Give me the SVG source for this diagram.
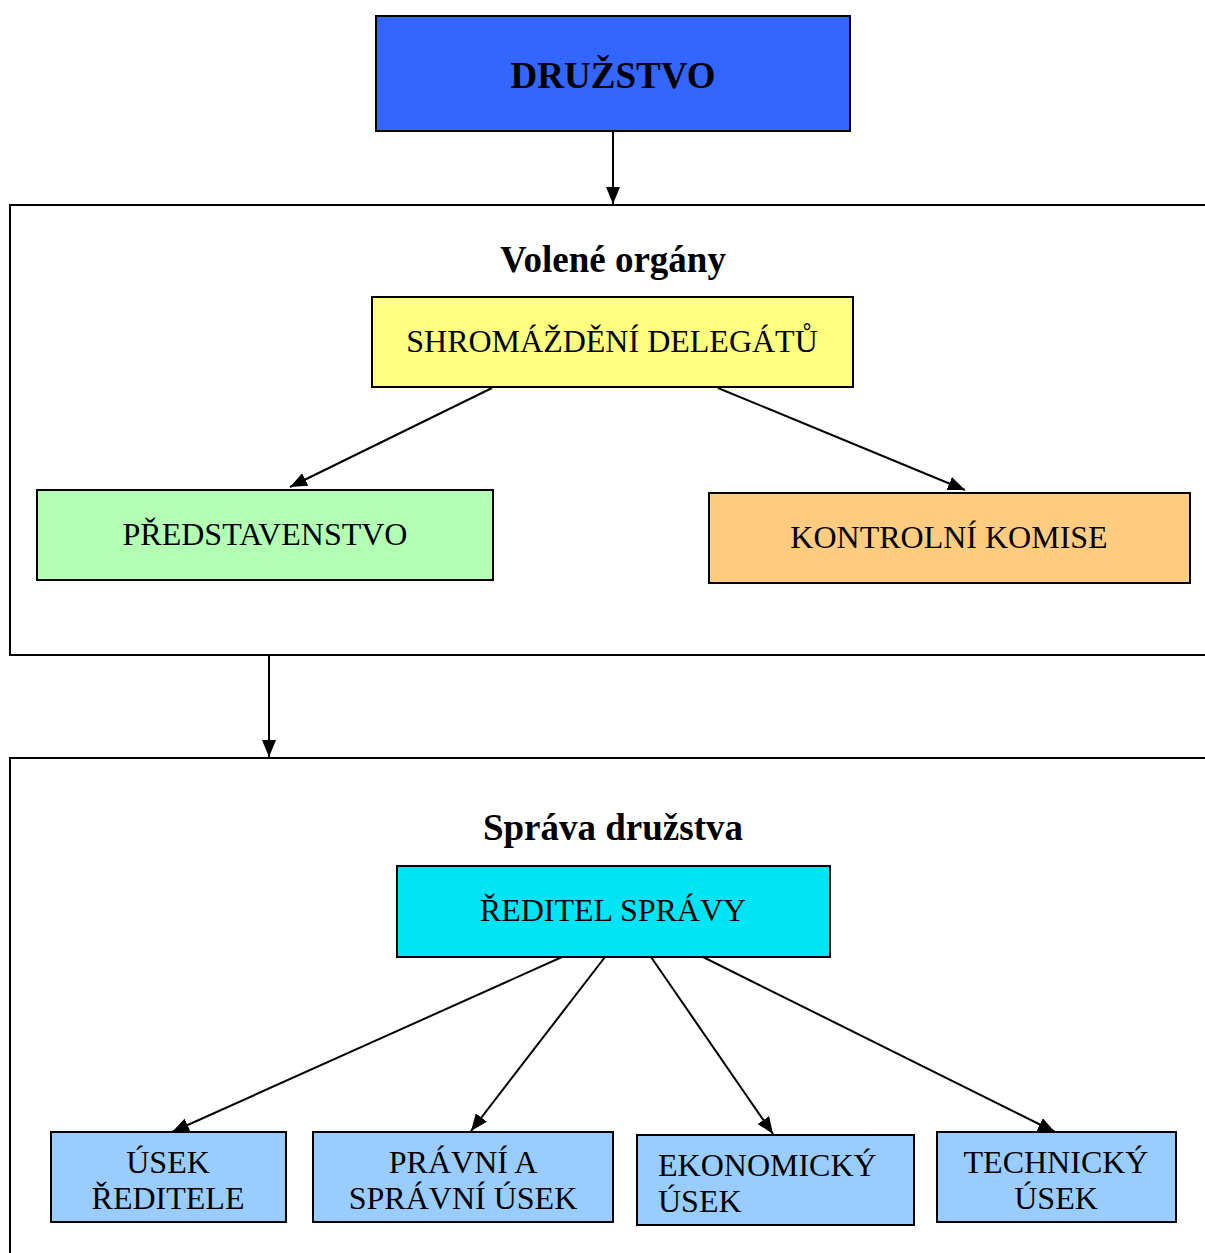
<svg xmlns="http://www.w3.org/2000/svg" width="1205" height="1253" viewBox="0 0 1205 1253">
<style>
.box{stroke:#000;stroke-width:2}
.frame{fill:#fff;stroke:#000;stroke-width:2}
.t{font-family:"Liberation Serif","Times New Roman",serif;font-size:32px;fill:#000;text-anchor:middle}
.b{font-weight:bold;font-size:37px}
.conn line{stroke:#000;stroke-width:2}
</style>
<defs>
<marker id="ah" markerUnits="userSpaceOnUse" markerWidth="18" markerHeight="14" refX="17" refY="7" orient="auto">
<path d="M0,0 L17,7 L0,14 z" fill="#000"/>
</marker>
</defs>
<rect width="1205" height="1253" fill="#fff"/>
<g id="frame-volene">
<rect class="frame" x="10" y="205" width="1200" height="450"/>
<text class="t b" x="613" y="272">Volené orgány</text>
</g>
<g id="frame-sprava">
<rect class="frame" x="10" y="758" width="1200" height="500"/>
<text class="t b" x="613" y="840">Správa družstva</text>
</g>
<g id="druzstvo">
<rect class="box" x="376" y="16" width="474" height="115" fill="#3366FF"/>
<text class="t b" x="613" y="88">DRUŽSTVO</text>
</g>
<g id="shromazdeni">
<rect class="box" x="372" y="297" width="481" height="90" fill="#FFFF80"/>
<text class="t" x="612" y="352">SHROMÁŽDĚNÍ DELEGÁTŮ</text>
</g>
<g id="predstavenstvo">
<rect class="box" x="37" y="490" width="456" height="90" fill="#B3FFB3"/>
<text class="t" x="265" y="545">PŘEDSTAVENSTVO</text>
</g>
<g id="kontrolni">
<rect class="box" x="709" y="493" width="481" height="90" fill="#FFCC80"/>
<text class="t" x="949" y="548">KONTROLNÍ KOMISE</text>
</g>
<g id="reditel">
<rect class="box" x="397" y="866" width="433" height="91" fill="#00E5F5"/>
<text class="t" x="613" y="921">ŘEDITEL SPRÁVY</text>
</g>
<g id="usek-reditele">
<rect class="box" x="51" y="1132" width="235" height="90" fill="#99CCFF"/>
<text class="t" x="168" y="1173">ÚSEK</text>
<text class="t" x="168" y="1209">ŘEDITELE</text>
</g>
<g id="pravni">
<rect class="box" x="313" y="1132" width="300" height="90" fill="#99CCFF"/>
<text class="t" x="463" y="1173">PRÁVNÍ A</text>
<text class="t" x="463" y="1209">SPRÁVNÍ ÚSEK</text>
</g>
<g id="ekonomicky">
<rect class="box" x="637" y="1135" width="277" height="90" fill="#99CCFF"/>
<text class="t" x="658" y="1176" text-anchor="start" style="text-anchor:start">EKONOMICKÝ</text>
<text class="t" x="658" y="1212" style="text-anchor:start">ÚSEK</text>
</g>
<g id="technicky">
<rect class="box" x="937" y="1132" width="239" height="90" fill="#99CCFF"/>
<text class="t" x="1056" y="1173">TECHNICKÝ</text>
<text class="t" x="1056" y="1209">ÚSEK</text>
</g>
<g class="conn" id="connectors">
<line x1="613" y1="131" x2="613" y2="204" marker-end="url(#ah)"/>
<line x1="492" y1="388" x2="290" y2="487" marker-end="url(#ah)"/>
<line x1="718" y1="388" x2="965" y2="490" marker-end="url(#ah)"/>
<line x1="269" y1="656" x2="269" y2="757" marker-end="url(#ah)"/>
<line x1="562" y1="957" x2="172" y2="1132" marker-end="url(#ah)"/>
<line x1="605" y1="957" x2="471" y2="1131" marker-end="url(#ah)"/>
<line x1="651" y1="957" x2="773" y2="1134" marker-end="url(#ah)"/>
<line x1="703" y1="957" x2="1055" y2="1132" marker-end="url(#ah)"/>
</g>
</svg>
